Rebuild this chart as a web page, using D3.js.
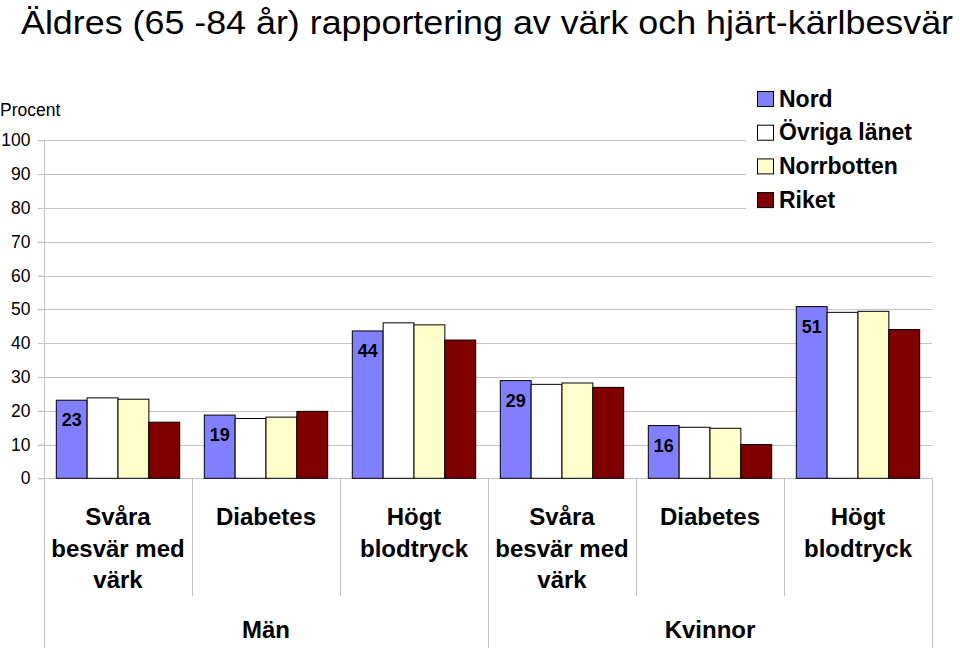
<!DOCTYPE html>
<html><head><meta charset="utf-8">
<script src="https://cdn.jsdelivr.net/npm/d3@7"></script>
<style>
html,body{margin:0;padding:0;background:#fff;}
svg{display:block;font-family:"Liberation Sans",Arial,sans-serif;}
</style></head>
<body>
<svg id="chart" width="960" height="648"></svg>
<script>
// ---- data ----
const title = "Äldres (65 -84 år) rapportering av värk och hjärt-kärlbesvär";
const yLabel = "Procent";
const groups = ["Män", "Kvinnor"];
const conditions = [["Svåra", "besvär med", "värk"], ["Diabetes"], ["Högt", "blodtryck"]];
const categories = ["Män-Svåra", "Män-Diabetes", "Män-Högt", "Kvinnor-Svåra", "Kvinnor-Diabetes", "Kvinnor-Högt"];
const seriesNames = ["Nord", "Övriga länet", "Norrbotten", "Riket"];
const seriesColors = ["#8080ff", "#ffffff", "#ffffcc", "#800000"];
const nord = [23.1, 18.7, 43.6, 28.9, 15.6, 50.8];
const ovriga = [23.8, 17.7, 46.0, 27.8, 15.1, 49.1];
const norrbotten = [23.4, 18.1, 45.4, 28.2, 14.8, 49.4];
const riket = [16.6, 19.8, 40.9, 26.9, 10.0, 44.0];
const yTicks = [0, 10, 20, 30, 40, 50, 60, 70, 80, 90, 100];

const seriesValues = [nord, ovriga, norrbotten, riket];

(function () {
// ---- layout ----
const svg = d3.select("#chart");
const pLeft = 44, pRight = 932, pTop = 140.3, pBottom = 478.3;

const y = d3.scaleLinear().domain([0, 100]).range([pBottom, pTop]);
const x0 = d3.scaleBand().domain(categories).range([pLeft, pRight]).padding(0);
const gx = d3.scaleBand().domain(groups).range([pLeft, pRight]).padding(0);
const x1 = d3.scaleBand().domain(seriesNames)
  .range([12.3, x0.bandwidth() - 12.3]).padding(0);

const gridColor = "#c4c4c4";

// title
svg.append("text")
  .attr("x", 21).attr("y", 34)
  .attr("font-size", 33)
  .attr("textLength", 932).attr("lengthAdjust", "spacingAndGlyphs")
  .text(title);

// y label
svg.append("text").attr("x", 0).attr("y", 116).attr("font-size", 17.5).text(yLabel);

// gridlines
svg.append("g").selectAll("line").data(yTicks.filter(d => d > 0)).join("line")
  .attr("x1", pLeft - 6).attr("x2", pRight)
  .attr("y1", d => Math.round(y(d)) + 0.5).attr("y2", d => Math.round(y(d)) + 0.5)
  .attr("stroke", gridColor).attr("stroke-width", 1);

// y axis
const yAxis = svg.append("g").attr("transform", `translate(${pLeft + 0.5},0)`)
  .call(d3.axisLeft(y).tickValues(yTicks).tickSize(6).tickPadding(8).tickFormat(d3.format("d")));
yAxis.select(".domain").remove();
yAxis.selectAll(".tick line").attr("stroke", gridColor);
yAxis.selectAll(".tick text").attr("font-size", 17.5).attr("fill", "#000")
  .attr("font-family", "'Liberation Sans', Arial, sans-serif");
svg.append("line").attr("x1", pLeft + 0.5).attr("x2", pLeft + 0.5)
  .attr("y1", pTop).attr("y2", 648).attr("stroke", gridColor);

// baseline (0)
svg.append("line").attr("x1", pLeft - 6).attr("x2", pRight)
  .attr("y1", Math.round(y(0)) + 0.5).attr("y2", Math.round(y(0)) + 0.5)
  .attr("stroke", gridColor);

// category separators
const catBounds = categories.map(c => x0(c)).concat([pRight]);
svg.append("g").selectAll("line").data(catBounds.slice(1)).join("line")
  .attr("x1", d => Math.round(d) + 0.5).attr("x2", d => Math.round(d) + 0.5)
  .attr("y1", y(0))
  .attr("y2", (d, i) => (i === 2 || i === 5) ? 648 : 596)
  .attr("stroke", gridColor);

// legend background (covers gridlines)
svg.append("rect").attr("x", 746).attr("y", 82).attr("width", 214).attr("height", 134).attr("fill", "#fff");

// bars
const barG = svg.append("g");
seriesNames.forEach((s, si) => {
  barG.append("g").selectAll("rect").data(seriesValues[si]).join("rect")
    .attr("x", (d, i) => x0(categories[i]) + x1(s))
    .attr("y", d => y(d))
    .attr("width", x1.bandwidth())
    .attr("height", d => y(0) - y(d))
    .attr("fill", seriesColors[si])
    .attr("stroke", "#000").attr("stroke-width", 1);
});

// data labels for Nord
svg.append("g").selectAll("text").data(nord).join("text")
  .attr("x", (d, i) => x0(categories[i]) + x1("Nord") + x1.bandwidth() / 2)
  .attr("y", d => y(d) + 26)
  .attr("text-anchor", "middle").attr("font-size", 18).attr("font-weight", "bold")
  .attr("fill", "#000")
  .text(d => d3.format(".0f")(d));

// category labels
categories.forEach((c, i) => {
  const lines = conditions[i % 3];
  const t = svg.append("text")
    .attr("x", x0(c) + x0.bandwidth() / 2).attr("y", 525)
    .attr("text-anchor", "middle").attr("font-size", 24).attr("font-weight", "bold");
  lines.forEach((ln, li) => {
    t.append("tspan").attr("x", x0(c) + x0.bandwidth() / 2)
      .attr("dy", li === 0 ? 0 : 31.5).text(ln);
  });
});

// group labels
svg.append("g").selectAll("text").data(groups).join("text")
  .attr("x", d => gx(d) + gx.bandwidth() / 2).attr("y", 638)
  .attr("text-anchor", "middle").attr("font-size", 24).attr("font-weight", "bold")
  .text(d => d);

// legend
const lg = svg.append("g").selectAll("g").data(seriesNames).join("g")
  .attr("transform", (d, i) => `translate(757,${99 + i * 33.7})`);
lg.append("rect").attr("x", 0.5).attr("y", -7.5).attr("width", 16).attr("height", 15)
  .attr("fill", (d, i) => seriesColors[i]).attr("stroke", "#000").attr("stroke-width", 1);
lg.append("text").attr("x", 22).attr("y", 7.5)
  .attr("font-size", 23).attr("font-weight", "bold").text(d => d);
})();
</script>
</body></html>
